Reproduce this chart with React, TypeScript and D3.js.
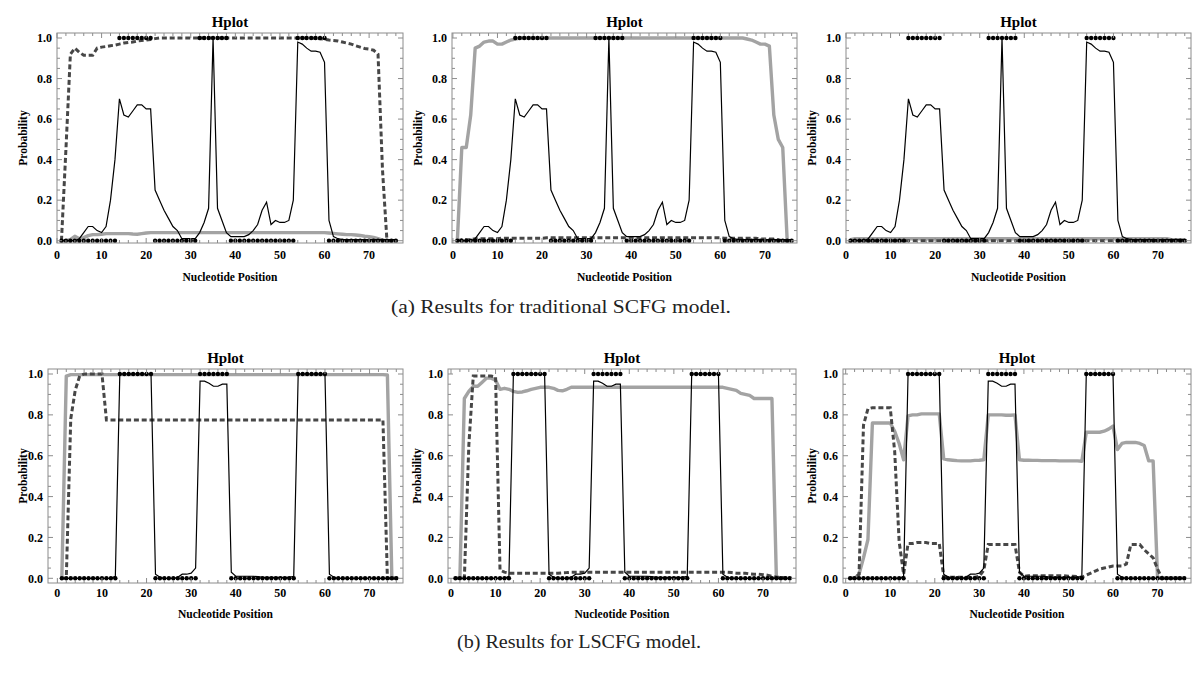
import React from "react";
import * as d3 from "d3";

// ---------- data (x = 1..76) ----------
const positions: number[] = d3.range(1, 77);

const truth = [
  0, 0, 0, 0, 0, 0, 0, 0, 0, 0,
  0, 0, 0, 1, 1, 1, 1, 1, 1, 1,
  1, 0, 0, 0, 0, 0, 0, 0, 0, 0,
  0, 1, 1, 1, 1, 1, 1, 1, 0, 0,
  0, 0, 0, 0, 0, 0, 0, 0, 0, 0,
  0, 0, 0, 1, 1, 1, 1, 1, 1, 1,
  0, 0, 0, 0, 0, 0, 0, 0, 0, 0,
  0, 0, 0, 0, 0, 0,
];

const blackTop = [
  0, 0, 0, 0, 0.01, 0.04, 0.07, 0.07, 0.05, 0.04,
  0.07, 0.2, 0.4, 0.7, 0.62, 0.61, 0.64, 0.67, 0.67, 0.65,
  0.65, 0.25, 0.2, 0.15, 0.11, 0.07, 0.05, 0.01, 0.01, 0.01,
  0.01, 0.04, 0.09, 0.16, 1.0, 0.16, 0.1, 0.04, 0.02, 0.02,
  0.02, 0.02, 0.03, 0.05, 0.08, 0.15, 0.19, 0.08, 0.1, 0.09,
  0.09, 0.1, 0.2, 0.98, 0.97, 0.95, 0.935, 0.935, 0.93, 0.88,
  0.1, 0.02, 0.01, 0.005, 0.005, 0.005, 0.005, 0.005, 0.005, 0.005,
  0.005, 0.005, 0.005, 0.005, 0.005, 0.005,
];

const grayTL = [
  0, 0, 0.005, 0.022, 0.01, 0.015, 0.025, 0.03, 0.03, 0.032,
  0.035, 0.035, 0.035, 0.035, 0.035, 0.035, 0.033, 0.032, 0.035, 0.038,
  0.04, 0.04, 0.04, 0.04, 0.04, 0.04, 0.04, 0.04, 0.04, 0.04,
  0.04, 0.04, 0.04, 0.04, 0.04, 0.04, 0.04, 0.04, 0.04, 0.04,
  0.04, 0.04, 0.04, 0.04, 0.04, 0.04, 0.04, 0.04, 0.04, 0.04,
  0.04, 0.04, 0.04, 0.04, 0.04, 0.04, 0.04, 0.04, 0.04, 0.04,
  0.038, 0.036, 0.034, 0.032, 0.03, 0.03, 0.028, 0.026, 0.022, 0.02,
  0.016, 0.01, 0.003, 0, 0, 0,
];

const dashTL = [
  0, 0.45, 0.92, 0.95, 0.93, 0.915, 0.915, 0.915, 0.95, 0.955,
  0.958, 0.962, 0.965, 0.97, 0.975, 0.978, 0.98, 0.985, 0.988, 0.99,
  0.993, 0.997, 1, 1, 1, 1, 1, 1, 1, 1,
  1, 1, 1, 1, 1, 1, 1, 1, 1, 1,
  1, 1, 1, 1, 1, 1, 1, 1, 1, 1,
  1, 1, 1, 1, 1, 1, 1, 0.998, 0.996, 0.994,
  0.99, 0.988, 0.985, 0.98, 0.975, 0.97, 0.962, 0.955, 0.948, 0.945,
  0.94, 0.92, 0.35, 0, 0, 0,
];

const grayTM = [
  0, 0.46, 0.46, 0.62, 0.95, 0.96, 0.98, 0.985, 0.985, 0.97,
  0.97, 0.98, 0.99, 0.995, 1, 1, 1, 1, 1, 1,
  1, 1, 1, 1, 1, 1, 1, 1, 1, 1,
  1, 1, 1, 1, 1, 1, 1, 1, 1, 1,
  1, 1, 1, 1, 1, 1, 1, 1, 1, 1,
  1, 1, 1, 1, 1, 1, 1, 1, 1, 1,
  1, 1, 1, 1, 1, 0.995, 0.99, 0.98, 0.97, 0.97,
  0.96, 0.62, 0.5, 0.46, 0, 0,
];

const dashTM = [
  0, 0.005, 0.005, 0.005, 0.01, 0.01, 0.01, 0.01, 0.01, 0.01,
  0.012, 0.012, 0.012, 0.012, 0.012, 0.012, 0.012, 0.012, 0.012, 0.012,
  0.015, 0.015, 0.015, 0.015, 0.015, 0.015, 0.015, 0.015, 0.015, 0.015,
  0.015, 0.015, 0.015, 0.015, 0.015, 0.015, 0.015, 0.015, 0.015, 0.015,
  0.015, 0.015, 0.015, 0.015, 0.015, 0.015, 0.015, 0.015, 0.015, 0.015,
  0.015, 0.015, 0.015, 0.015, 0.015, 0.015, 0.015, 0.015, 0.015, 0.015,
  0.012, 0.012, 0.012, 0.012, 0.012, 0.012, 0.012, 0.012, 0.008, 0.008,
  0.008, 0.008, 0.004, 0, 0, 0,
];

const grayTR = [
  0.005, 0.01, 0.01, 0.01, 0.01, 0.01, 0.01, 0.01, 0.01, 0.01,
  0.01, 0.01, 0.01, 0.01, 0.01, 0.01, 0.01, 0.01, 0.01, 0.01,
  0.01, 0.01, 0.01, 0.01, 0.01, 0.01, 0.01, 0.01, 0.01, 0.01,
  0.01, 0.01, 0.01, 0.01, 0.01, 0.01, 0.01, 0.01, 0.01, 0.01,
  0.01, 0.01, 0.01, 0.01, 0.01, 0.01, 0.01, 0.01, 0.01, 0.01,
  0.01, 0.01, 0.01, 0.01, 0.01, 0.01, 0.01, 0.01, 0.01, 0.01,
  0.01, 0.01, 0.01, 0.01, 0.01, 0.01, 0.01, 0.01, 0.01, 0.01,
  0.01, 0.01, 0.005, 0.005, 0.005, 0.005,
];

const dashTR = [
  0, 0, 0, 0, 0, 0, 0, 0, 0, 0,
  0, 0, 0, 0, 0, 0, 0, 0, 0, 0,
  0, 0, 0, 0, 0, 0, 0, 0, 0, 0,
  0, 0, 0, 0, 0, 0, 0, 0, 0, 0,
  0, 0, 0, 0, 0, 0, 0, 0, 0, 0,
  0, 0, 0, 0, 0, 0, 0, 0, 0, 0,
  0, 0, 0, 0, 0, 0, 0, 0, 0, 0,
  0, 0, 0, 0, 0, 0,
];

const blackBottom = [
  0, 0, 0, 0, 0, 0, 0, 0, 0, 0,
  0, 0, 0.01, 1, 1, 1, 1, 1, 1, 1,
  1, 0.02, 0.005, 0, 0, 0, 0.005, 0.02, 0.02, 0.025,
  0.05, 0.965, 0.965, 0.955, 0.94, 0.94, 0.95, 0.95, 0.03, 0.01,
  0.01, 0.01, 0.01, 0.01, 0.008, 0.005, 0.005, 0.005, 0.005, 0.005,
  0.005, 0.005, 0.01, 1, 1, 1, 1, 1, 1, 1,
  0.02, 0.005, 0, 0, 0, 0, 0, 0, 0, 0,
  0, 0, 0, 0, 0, 0,
];

const grayBL = [
  0, 0.99, 0.997, 0.997, 0.997, 0.997, 0.997, 0.997, 0.997, 0.997,
  0.997, 0.997, 0.997, 0.997, 0.997, 0.997, 0.997, 0.997, 0.997, 0.997,
  0.997, 0.997, 0.997, 0.997, 0.997, 0.997, 0.997, 0.997, 0.997, 0.997,
  0.997, 0.997, 0.997, 0.997, 0.997, 0.997, 0.997, 0.997, 0.997, 0.997,
  0.997, 0.997, 0.997, 0.997, 0.997, 0.997, 0.997, 0.997, 0.997, 0.997,
  0.997, 0.997, 0.997, 0.997, 0.997, 0.997, 0.997, 0.997, 0.997, 0.997,
  0.997, 0.997, 0.997, 0.997, 0.997, 0.997, 0.997, 0.997, 0.997, 0.997,
  0.997, 0.997, 0.997, 0.995, 0, 0,
];

const dashBL = [
  0, 0, 0.78, 0.92, 0.99, 1, 1, 1, 1, 1,
  0.775, 0.775, 0.775, 0.775, 0.775, 0.775, 0.775, 0.775, 0.775, 0.775,
  0.775, 0.775, 0.775, 0.775, 0.775, 0.775, 0.775, 0.775, 0.775, 0.775,
  0.775, 0.775, 0.775, 0.775, 0.775, 0.775, 0.775, 0.775, 0.775, 0.775,
  0.775, 0.775, 0.775, 0.775, 0.775, 0.775, 0.775, 0.775, 0.775, 0.775,
  0.775, 0.775, 0.775, 0.775, 0.775, 0.775, 0.775, 0.775, 0.775, 0.775,
  0.775, 0.775, 0.775, 0.775, 0.775, 0.775, 0.775, 0.775, 0.775, 0.775,
  0.775, 0.775, 0.775, 0, 0, 0,
];

const grayBM = [
  0, 0, 0.88, 0.915, 0.94, 0.94, 0.96, 0.98, 0.98, 0.97,
  0.925, 0.93, 0.925, 0.915, 0.91, 0.912, 0.918, 0.925, 0.93, 0.935,
  0.935, 0.935, 0.93, 0.92, 0.918, 0.925, 0.935, 0.935, 0.935, 0.935,
  0.935, 0.935, 0.935, 0.935, 0.935, 0.935, 0.935, 0.935, 0.935, 0.935,
  0.935, 0.935, 0.935, 0.935, 0.935, 0.935, 0.935, 0.935, 0.935, 0.935,
  0.935, 0.935, 0.935, 0.935, 0.935, 0.935, 0.935, 0.935, 0.935, 0.935,
  0.935, 0.93, 0.925, 0.92, 0.905, 0.9, 0.895, 0.88, 0.88, 0.88,
  0.88, 0.88, 0, 0, 0, 0,
];

const dashBM = [
  0, 0, 0, 0.65, 0.99, 0.99, 0.99, 0.99, 0.99, 0.985,
  0.04, 0.03, 0.025, 0.025, 0.025, 0.025, 0.025, 0.025, 0.025, 0.025,
  0.025, 0.025, 0.025, 0.025, 0.027, 0.028, 0.03, 0.03, 0.03, 0.03,
  0.03, 0.03, 0.03, 0.03, 0.03, 0.03, 0.03, 0.03, 0.03, 0.03,
  0.03, 0.03, 0.03, 0.03, 0.03, 0.03, 0.03, 0.03, 0.03, 0.03,
  0.03, 0.03, 0.03, 0.03, 0.03, 0.03, 0.03, 0.03, 0.03, 0.03,
  0.03, 0.03, 0.028, 0.025, 0.025, 0.025, 0.022, 0.02, 0.02, 0.018,
  0.015, 0.01, 0.006, 0.004, 0.002, 0,
];

const grayBR = [
  0, 0, 0.02, 0.1, 0.19, 0.76, 0.76, 0.76, 0.76, 0.76,
  0.72, 0.66, 0.58, 0.795, 0.8, 0.8, 0.805, 0.805, 0.805, 0.805,
  0.805, 0.585, 0.58, 0.578, 0.576, 0.575, 0.575, 0.575, 0.577, 0.578,
  0.58, 0.8, 0.8, 0.8, 0.8, 0.798, 0.798, 0.8, 0.58, 0.578,
  0.578, 0.577, 0.577, 0.576, 0.576, 0.576, 0.576, 0.575, 0.575, 0.575,
  0.575, 0.575, 0.573, 0.715, 0.715, 0.715, 0.715, 0.72, 0.73, 0.745,
  0.63, 0.66, 0.665, 0.665, 0.665, 0.66, 0.65, 0.575, 0.575, 0,
  0, 0, 0, 0, 0, 0,
];

const dashBR = [
  0, 0, 0.02, 0.75, 0.83, 0.835, 0.835, 0.835, 0.835, 0.835,
  0.62, 0.18, 0.02, 0.17, 0.17, 0.175, 0.175, 0.175, 0.17, 0.17,
  0.17, 0.01, 0.005, 0.005, 0.005, 0.005, 0.005, 0.005, 0.005, 0.01,
  0.04, 0.165, 0.165, 0.165, 0.165, 0.165, 0.165, 0.165, 0.03, 0.01,
  0.012, 0.012, 0.012, 0.012, 0.012, 0.012, 0.012, 0.012, 0.012, 0.01,
  0.01, 0.008, 0.005, 0.015, 0.025, 0.035, 0.045, 0.05, 0.055, 0.06,
  0.06, 0.06, 0.07, 0.165, 0.165, 0.165, 0.14, 0.12, 0.1, 0.045,
  0, 0, 0, 0, 0, 0,
];

const xMajorTicks = [0, 10, 20, 30, 40, 50, 60, 70];
const yMajorTicks = [0, 0.2, 0.4, 0.6, 0.8, 1.0];
const panelTitle = "Hplot";
const xAxisTitle = "Nucleotide Position";
const yAxisTitle = "Probability";
const captionA = "(a) Results for traditional SCFG model.";
const captionB = "(b) Results for LSCFG model.";

// ---------- layout ----------
type Frame = { l: number; r: number; t: number; b: number; xDom: [number, number]; yDom: [number, number]; titleY: number; tickY: number; axisY: number; yTitleX: number };

const topRow = { t: 33, b: 243, yDom: [-0.0113, 1.0247] as [number, number], titleY: 27, tickY: 259, axisY: 281 };
const botRow = { t: 369, b: 583, yDom: [-0.023, 1.0245] as [number, number], titleY: 363, tickY: 597, axisY: 618 };

const panels: { frame: Frame; gray: number[]; dash: number[]; black: number[] }[] = [
  { frame: { ...topRow, l: 57, r: 403, xDom: [0, 77.6], yTitleX: 23 }, gray: grayTL, dash: dashTL, black: blackTop },
  { frame: { ...topRow, l: 452, r: 797, xDom: [-0.2, 77.2], yTitleX: 418 }, gray: grayTM, dash: dashTM, black: blackTop },
  { frame: { ...topRow, l: 846, r: 1191, xDom: [0, 77.4], yTitleX: 812 }, gray: grayTR, dash: dashTR, black: blackTop },
  { frame: { ...botRow, l: 48, r: 403, xDom: [-2.1, 77.5], yTitleX: 23 }, gray: grayBL, dash: dashBL, black: blackBottom },
  { frame: { ...botRow, l: 448, r: 796, xDom: [-0.67, 77.4], yTitleX: 417 }, gray: grayBM, dash: dashBM, black: blackBottom },
  { frame: { ...botRow, l: 843, r: 1191, xDom: [-0.6, 77.5], yTitleX: 812 }, gray: grayBR, dash: dashBR, black: blackBottom },
];

const boldSerif = "'Liberation Serif', 'Times New Roman', serif";

function Panel({ frame, gray, dash, black }: { frame: Frame; gray: number[]; dash: number[]; black: number[] }) {
  const x = d3.scaleLinear().domain(frame.xDom).range([frame.l, frame.r]);
  const y = d3.scaleLinear().domain(frame.yDom).range([frame.b, frame.t]);
  const line = (vals: number[]) =>
    d3.line<number>().x((_, i) => x(positions[i])).y((v) => y(v))(vals) || "";

  const xMinor = d3.range(0, 78, 2).filter((v) => v % 10 !== 0 && v >= frame.xDom[0] && v <= frame.xDom[1]);
  const yMinor = d3.range(0, 21).map((i) => i * 0.05).filter((v) => Math.abs(v * 5 - Math.round(v * 5)) > 1e-6);
  const frameColor = "#8c8c8c";
  const majL = 5;
  const minL = 3;
  const cx = (frame.l + frame.r) / 2;
  const cy = (frame.t + frame.b) / 2;

  return (
    <g>
      <text x={cx} y={frame.titleY} textAnchor="middle" fontFamily={boldSerif} fontWeight="bold" fontSize={15}>
        {panelTitle}
      </text>
      {/* series */}
      <path d={line(gray)} fill="none" stroke="#a3a3a3" strokeWidth={3.4} strokeLinejoin="round" />
      <path d={line(dash)} fill="none" stroke="#474747" strokeWidth={3} strokeDasharray="5,2.8" />
      <path d={line(black)} fill="none" stroke="#000" strokeWidth={1.2} strokeLinejoin="miter" />
      {positions.map((p, i) => (
        <circle key={p} cx={x(p)} cy={y(truth[i])} r={2.2} fill="#000" />
      ))}
      {/* frame */}
      <rect x={frame.l} y={frame.t} width={frame.r - frame.l} height={frame.b - frame.t} fill="none" stroke={frameColor} strokeWidth={1} />
      {xMajorTicks.map((v) => (
        <g key={"xM" + v}>
          <line x1={x(v)} x2={x(v)} y1={frame.b} y2={frame.b - majL} stroke={frameColor} />
          <line x1={x(v)} x2={x(v)} y1={frame.t} y2={frame.t + majL} stroke={frameColor} />
          <text x={x(v)} y={frame.tickY} textAnchor="middle" fontFamily={boldSerif} fontWeight="bold" fontSize={12}>
            {v}
          </text>
        </g>
      ))}
      {xMinor.map((v) => (
        <g key={"xm" + v}>
          <line x1={x(v)} x2={x(v)} y1={frame.b} y2={frame.b - minL} stroke={frameColor} />
          <line x1={x(v)} x2={x(v)} y1={frame.t} y2={frame.t + minL} stroke={frameColor} />
        </g>
      ))}
      {yMajorTicks.map((v) => (
        <g key={"yM" + v}>
          <line x1={frame.l} x2={frame.l + majL} y1={y(v)} y2={y(v)} stroke={frameColor} />
          <line x1={frame.r} x2={frame.r - majL} y1={y(v)} y2={y(v)} stroke={frameColor} />
          <text x={frame.l - 5} y={y(v)} dy="0.35em" textAnchor="end" fontFamily={boldSerif} fontWeight="bold" fontSize={12}>
            {v.toFixed(1)}
          </text>
        </g>
      ))}
      {yMinor.map((v) => (
        <g key={"ym" + v}>
          <line x1={frame.l} x2={frame.l + minL} y1={y(v)} y2={y(v)} stroke={frameColor} />
          <line x1={frame.r} x2={frame.r - minL} y1={y(v)} y2={y(v)} stroke={frameColor} />
        </g>
      ))}
      <text x={cx} y={frame.axisY} textAnchor="middle" fontFamily={boldSerif} fontWeight="bold" fontSize={11.5}>
        {xAxisTitle}
      </text>
      <text
        transform={`translate(${frame.yTitleX},${cy}) rotate(-90)`}
        textAnchor="middle"
        dy="0.35em"
        fontFamily={boldSerif}
        fontWeight="bold"
        fontSize={11.5}
      >
        {yAxisTitle}
      </text>
    </g>
  );
}

export default function App() {
  return (
    <svg width={1200} height={675} style={{ position: "absolute", left: 0, top: 0, background: "#fff" }}>
      <rect x={0} y={0} width={1200} height={675} fill="#fff" />
      {panels.map((p, i) => (
        <Panel key={i} {...p} />
      ))}
      <text x={561} y={313} textAnchor="middle" fontFamily="'Liberation Serif', serif" fontSize={19} fill="#222" textLength={340} lengthAdjust="spacingAndGlyphs">
        {captionA}
      </text>
      <text x={579} y={648} textAnchor="middle" fontFamily="'Liberation Serif', serif" fontSize={19} fill="#222" textLength={244} lengthAdjust="spacingAndGlyphs">
        {captionB}
      </text>
    </svg>
  );
}
